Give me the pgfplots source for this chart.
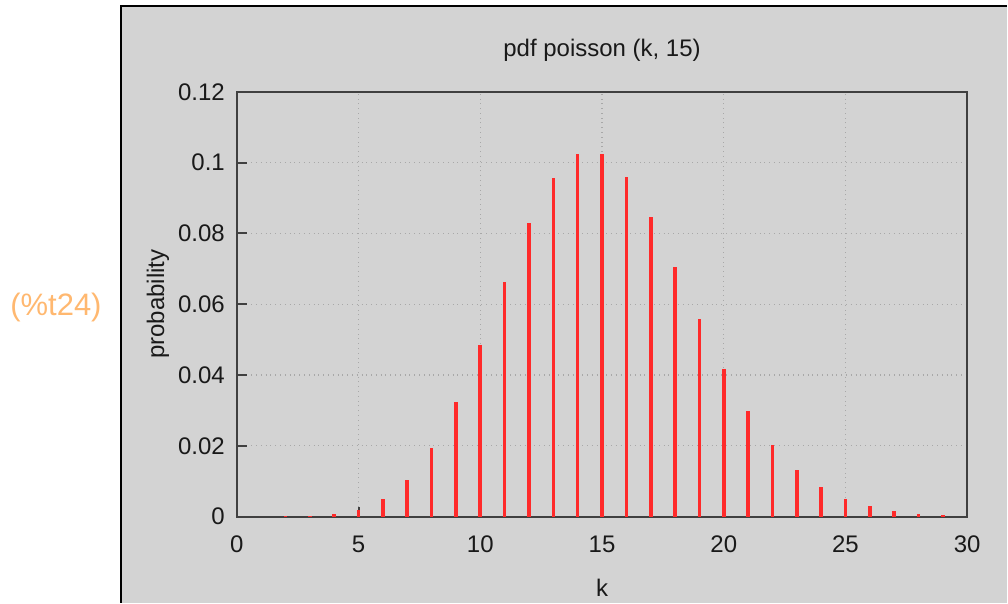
\documentclass[border=0pt]{standalone}
\usepackage{pgfplots}
\pgfplotsset{compat=1.18}
\usepackage{fontspec}
\setmainfont{Liberation Sans}
\definecolor{panel}{HTML}{D3D3D3}
\definecolor{axgray}{HTML}{404040}
\definecolor{gridgray}{HTML}{A8A8A8}
\definecolor{lblorange}{HTML}{FFB870}
\definecolor{barred}{HTML}{FF2A2A}

\begin{document}
\begin{tikzpicture}[x=1pt,y=1pt]
% page and gray panel (1px = 0.5pt)
\path (0,0) rectangle (504,301.5);
\fill[panel] (60.5,0) rectangle (504,298.5);
\draw[black, line width=0.8pt] (60.5,0) -- (60.5,298.5) -- (504,298.5);
\node[lblorange, font=\fontsize{15.5}{18}\selectfont] at (28,147.5) {(\%t24)};

\begin{axis}[
    at={(118.5pt,43pt)}, anchor=south west,
    scale only axis, width=365.5pt, height=212.5pt,
    xmin=0, xmax=30, ymin=0, ymax=0.12,
    xtick={0,5,10,15,20,25,30},
    ytick={0,0.02,0.04,0.06,0.08,0.1,0.12},
    yticklabels={0,0.02,0.04,0.06,0.08,0.1,0.12},
    tick align=inside, xtick pos=bottom, ytick pos=left,
    major tick length=5pt,
    axis line style={axgray, line width=1pt},
    tick style={axgray, line width=1pt},
    grid=major,
    major grid style={gridgray, dotted, line width=0.6pt},
    tick label style={font=\fontsize{12}{14}\selectfont, text=black!90},
    yticklabel style={xshift=-2.5pt},
    xticklabel style={yshift=-6pt},
    /pgf/number format/assume math mode=true,
    title={pdf poisson (k, 15)},
    title style={at={(axis description cs:0.5,1.099)}, anchor=center, yshift=-6pt,
                 font=\fontsize{12}{14}\selectfont, text=black!90},
    xlabel={k},
    xlabel style={at={(axis description cs:0.5,-0.167)}, anchor=center,
                  font=\fontsize{12}{14}\selectfont, text=black!90},
    ylabel={probability},
    ylabel style={at={(axis description cs:-0.108,0.5)}, anchor=center,
                  font=\fontsize{12}{14}\selectfont, text=black!90},
]
\addplot[ycomb, barred, line width=1.8pt] coordinates {
(0,0.0000003)(1,0.0000046)(2,0.0000344)(3,0.000172)(4,0.000645)
(5,0.001936)(6,0.004839)(7,0.010370)(8,0.019444)(9,0.032407)
(10,0.048611)(11,0.066287)(12,0.082859)(13,0.095607)(14,0.102436)
(15,0.102436)(16,0.096034)(17,0.084736)(18,0.070613)(19,0.055747)
(20,0.041810)(21,0.029865)(22,0.020362)(23,0.013280)(24,0.008300)
(25,0.004980)(26,0.002873)(27,0.001596)(28,0.000855)(29,0.000442)
};
\end{axis}
\end{tikzpicture}
\end{document}
